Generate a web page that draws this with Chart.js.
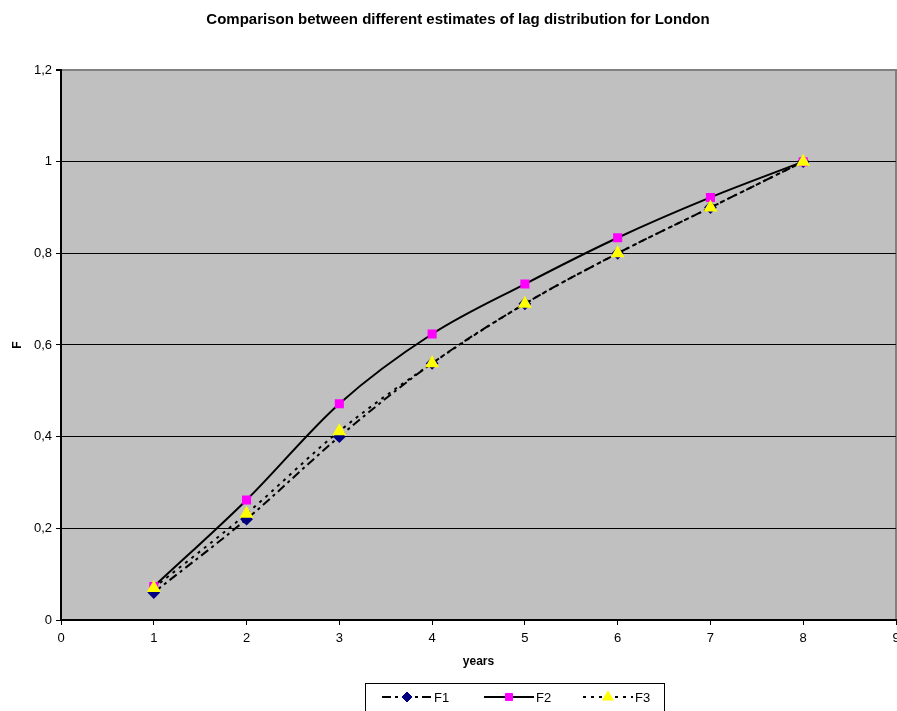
<!DOCTYPE html>
<html>
<head>
<meta charset="utf-8">
<script src="https://cdn.jsdelivr.net/npm/chart.js@4"></script>
<style>
  html, body { margin: 0; padding: 0; background: #fff; }
  #wrap { width: 897px; height: 711px; }
</style>
</head>
<body>
<div id="wrap"><canvas id="myChart" width="897" height="711"></canvas></div>
<script>
// data
const years = [1, 2, 3, 4, 5, 6, 7, 8];
const f1 = [0.06, 0.22, 0.40, 0.56, 0.69, 0.80, 0.90, 1.00];
const f2 = [0.073, 0.262, 0.472, 0.624, 0.733, 0.834, 0.922, 1.00];
const f3 = [0.07, 0.232, 0.412, 0.56, 0.69, 0.80, 0.90, 1.00];
const xTicks = [0, 1, 2, 3, 4, 5, 6, 7, 8, 9];
const yTicks = ["0", "0,2", "0,4", "0,6", "0,8", "1", "1,2"];

const FONT = "Arial, 'Liberation Sans', sans-serif";
const pts = (arr) => years.map((x, i) => ({ x: x, y: arr[i] }));

// plot background + title + legend
const excelLook = {
  id: "excelLook",
  beforeDraw(chart) {
    const { ctx, chartArea: a } = chart;
    ctx.save();
    ctx.fillStyle = "#c0c0c0";
    ctx.fillRect(a.left, a.top, a.right - a.left, a.bottom - a.top);
    ctx.strokeStyle = "#808080";
    ctx.lineWidth = 2;
    ctx.beginPath();
    ctx.moveTo(a.left, a.top);
    ctx.lineTo(a.right, a.top);
    ctx.lineTo(a.right, a.bottom);
    ctx.stroke();
    ctx.restore();
  },
  afterDraw(chart) {
    const ctx = chart.ctx;
    ctx.save();
    ctx.fillStyle = "#000";
    ctx.font = "bold 15px " + FONT;
    ctx.textAlign = "center";
    ctx.textBaseline = "middle";
    ctx.fillText("Comparison between different estimates of lag distribution for London", 458, 20);

    // legend box
    ctx.strokeStyle = "#000";
    ctx.lineWidth = 1;
    ctx.strokeRect(365.5, 683.5, 299, 40);
    const items = [
      { label: "F1", x: 382, dash: [9, 4, 3, 4], style: "rectRot", color: "#000080", r: 5 },
      { label: "F2", x: 484, dash: [], style: "rect", color: "#ff00ff", r: 5 },
      { label: "F3", x: 583, dash: [3, 5], style: "triangle", color: "#ffff00", r: 6 }
    ];
    const ly = 697;
    items.forEach((it) => {
      ctx.strokeStyle = "#000";
      ctx.lineWidth = 2;
      ctx.setLineDash(it.dash);
      ctx.beginPath();
      ctx.moveTo(it.x, ly);
      ctx.lineTo(it.x + 50, ly);
      ctx.stroke();
      ctx.setLineDash([]);
      ctx.fillStyle = it.color;
      ctx.strokeStyle = it.color;
      ctx.lineWidth = 1;
      Chart.helpers.drawPoint(ctx, { pointStyle: it.style, radius: it.r, borderWidth: 1, rotation: 0 }, it.x + 25, ly);
      ctx.fillStyle = "#000";
      ctx.font = "13px " + FONT;
      ctx.textAlign = "left";
      ctx.fillText(it.label, it.x + 52, ly + 1);
    });
    ctx.restore();
  }
};

const common = { borderColor: "#000", borderWidth: 2, cubicInterpolationMode: "monotone" };

const data = {
  datasets: [
    Object.assign({
      label: "F1",
      data: pts(f1),
      borderDash: [9, 4, 3, 4],
      pointStyle: "rectRot",
      pointRadius: 5,
      pointBackgroundColor: "#000080",
      pointBorderColor: "#000080",
      order: 2
    }, common),
    Object.assign({
      label: "F2",
      data: pts(f2),
      pointStyle: "rect",
      pointRadius: 5,
      pointBackgroundColor: "#ff00ff",
      pointBorderColor: "#ff00ff",
      order: 1
    }, common),
    Object.assign({
      label: "F3",
      data: pts(f3),
      borderDash: [3, 5],
      pointStyle: "triangle",
      pointRadius: 6,
      pointBackgroundColor: "#ffff00",
      pointBorderColor: "#ffff00",
      order: 0
    }, common)
  ]
};

const config = {
  type: "line",
  data,
  plugins: [excelLook],
  options: {
    responsive: false,
    animation: false,
    layout: { autoPadding: false, padding: { top: 70, right: 1, bottom: 41, left: 0 } },
    plugins: {
      legend: { display: false },
      tooltip: { enabled: false }
    },
    scales: {
      x: {
        type: "linear",
        min: 0,
        max: 9,
        afterFit: (s) => { s.height = 50; s.paddingRight = 0; s.paddingLeft = 0; },
        afterBuildTicks: (s) => { s.ticks = xTicks.map((v) => ({ value: v })); },
        ticks: {
          color: "#000",
          font: { family: FONT, size: 13 },
          maxRotation: 0,
          autoSkip: false,
          padding: 6
        },
        grid: { drawOnChartArea: false, drawTicks: true, tickLength: 5, color: "#000" },
        border: { color: "#000", width: 2 },
        title: {
          display: true,
          text: "years",
          color: "#000",
          font: { family: FONT, size: 12, weight: "bold" },
          padding: { top: 0, bottom: 1 }
        }
      },
      y: {
        min: 0,
        max: 1.2,
        afterFit: (s) => { s.width = 61; },
        afterBuildTicks: (s) => { s.ticks = yTicks.map((t, i) => ({ value: i * 0.2 })); },
        ticks: {
          color: "#000",
          font: { family: FONT, size: 13 },
          callback: (value, index) => yTicks[index],
          padding: 4
        },
        grid: {
          color: (c) => (c.index === yTicks.length - 1 ? "#808080" : "#000"),
          lineWidth: (c) => (c.index === yTicks.length - 1 ? 2 : 1),
          tickColor: "#000",
          tickLength: 5
        },
        border: { color: "#000", width: 2 },
        title: {
          display: true,
          text: "F",
          color: "#000",
          font: { family: FONT, size: 12, weight: "bold" },
          padding: { top: 10, bottom: 0 }
        }
      }
    }
  }
};

const myChart = new Chart(document.getElementById("myChart"), config);
</script>
</body>
</html>
